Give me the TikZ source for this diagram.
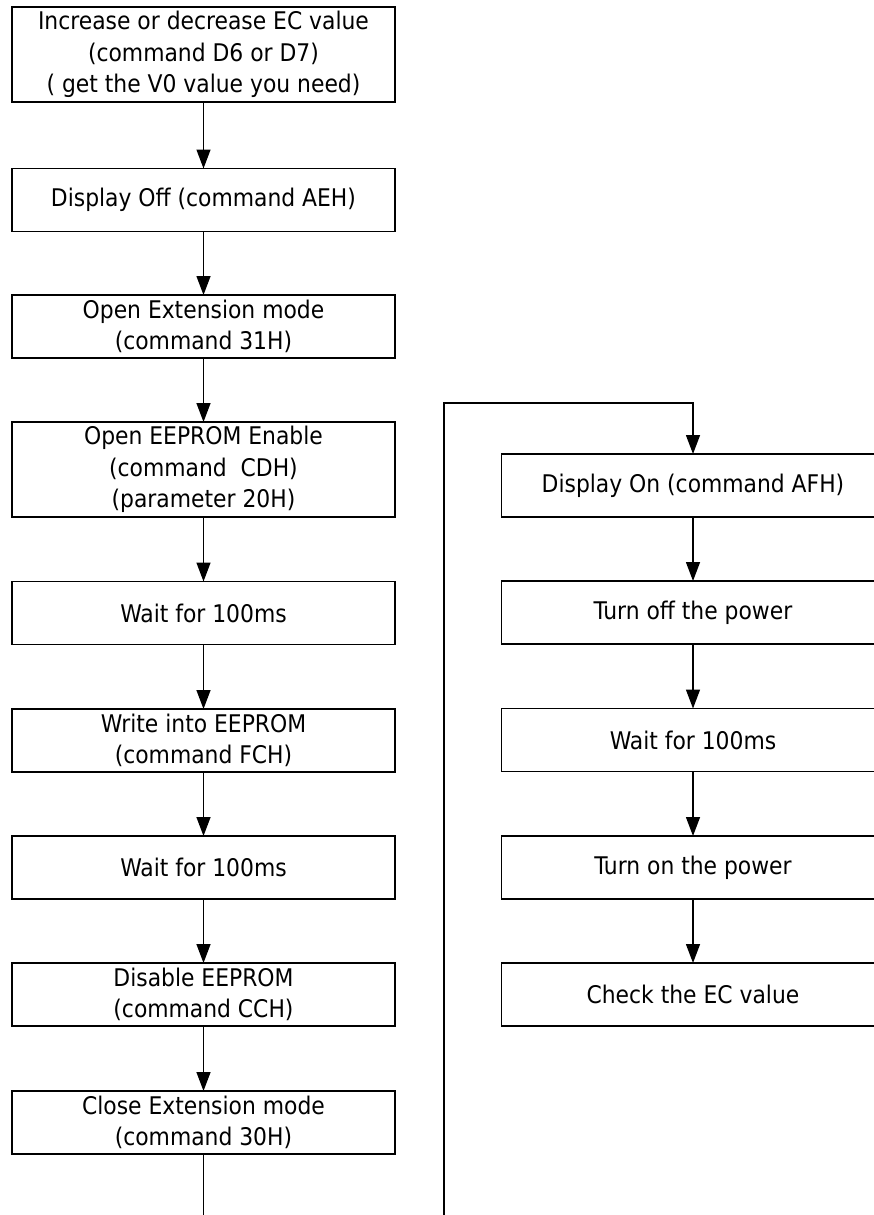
\documentclass[tikz,border=0pt]{standalone}
\usepackage{fontspec}
\setmainfont{DejaVu Sans Condensed}
\usepackage{tikz}
\usetikzlibrary{arrows.meta,calc}
\tikzset{
arc/.style={-{Triangle[length=19pt,width=14pt]},line width=1.4pt},
box/.style={draw,line width=1.6pt,minimum width=383pt,minimum height=63pt,inner sep=0pt,outer sep=0pt,align=center},
tallbox/.style={box,minimum height=95pt}
}

\begin{document}
\begin{tikzpicture}[x=1pt,y=-1pt,font=\fontsize{24.3}{31.5}\selectfont]
	\useasboundingbox (0,0) rectangle (874,1215);
	% left column
	\node[tallbox] (incr) at (203.5,54.5) {Increase or decrease EC value\\(command D6 or D7)\\( get the V0 value you need)};
	\node[box] (dispoff) at (203.5,200) {Display Off (command AEH)};
	\node[box] (openext) at (203.5,326.5) {Open Extension mode\\(command 31H)};
	\node[tallbox] (openee) at (203.5,469.5) {Open EEPROM Enable\\(command\ \ CDH)\\(parameter 20H)};
	\node[box] (waitA) at (203.5,613) {Wait for 100ms};
	\node[box] (write) at (203.5,740.5) {Write into EEPROM\\(command FCH)};
	\node[box] (waitB) at (203.5,867.5) {Wait for 100ms};
	\node[box] (disable) at (203.5,994.5) {Disable EEPROM\\(command CCH)};
	\node[box] (closeext) at (203.5,1122.5) {Close Extension mode\\(command 30H)};

	% right column
	\node[box] (dispon) at (693,485.5) {Display On (command AFH)};
	\node[box] (pwroff) at (693,612.5) {Turn off the power};
	\node[box] (waitC) at (693,740) {Wait for 100ms};
	\node[box] (pwron) at (693,867.5) {Turn on the power};
	\node[box] (check) at (693,994.5) {Check the EC value};

	% free ends
	\coordinate (leftend) at (203.5,1215);
	\coordinate (loopbot) at (444,1215);
	\coordinate (looptop) at (444,403);

	% arrows
	\draw[arc] (incr) -- (dispoff);
	\draw[arc] (dispoff) -- (openext);
	\draw[arc] (openext) -- (openee);
	\draw[arc] (openee) -- (waitA);
	\draw[arc] (waitA) -- (write);
	\draw[arc] (write) -- (waitB);
	\draw[arc] (waitB) -- (disable);
	\draw[arc] (disable) -- (closeext);
	\draw[line width=1.4pt] (closeext) -- (leftend);

	\draw[arc] (loopbot) -- (looptop) -| (dispon);
	\draw[arc] (dispon) -- (pwroff);
	\draw[arc] (pwroff) -- (waitC);
	\draw[arc] (waitC) -- (pwron);
	\draw[arc] (pwron) -- (check);
\end{tikzpicture}
\end{document}
